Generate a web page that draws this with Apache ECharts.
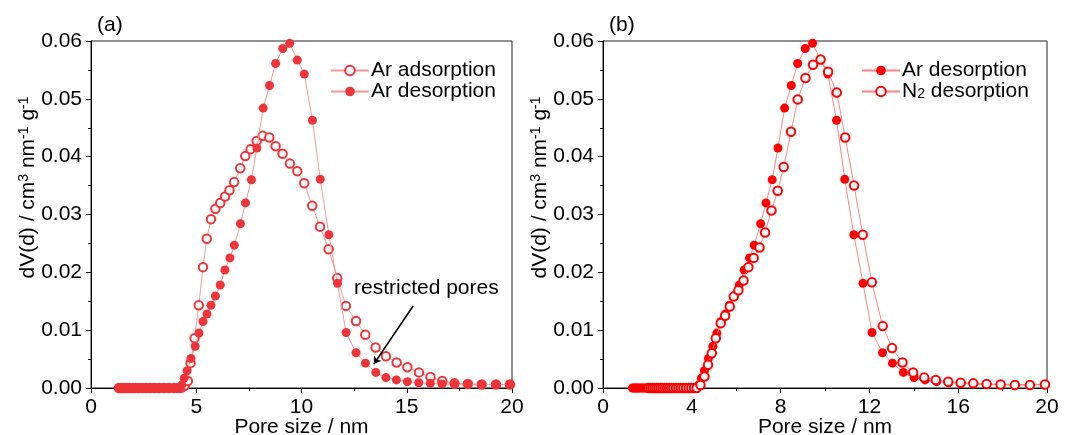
<!DOCTYPE html>
<html>
<head>
<meta charset="utf-8">
<script src="https://cdn.jsdelivr.net/npm/echarts@6/dist/echarts.min.js"></script>
<style>html,body{margin:0;padding:0;background:#fff}#c{width:1065px;height:435px}</style>
</head>
<body>
<div id="c"></div>
<script>
// ---- data (pore size in nm, dV(d) in cm3 nm-1 g-1) ----
const arDesX = [1.33,1.38,1.44,1.50,1.56,1.62,1.68,1.75,1.82,1.89,1.96,2.03,2.11,2.19,2.27,2.35,2.44,2.53,2.62,2.71,2.81,2.91,3.01,3.12,3.23,3.34,3.46,3.58,3.70,3.83,3.96,4.08,4.20,4.31,
  4.43,4.57,4.75,4.95,5.13,5.32,5.51,5.70,5.91,6.14,6.36,6.60,6.81,7.10,7.34,7.62,7.88,8.18,8.48,8.77,9.11,9.44,9.80,10.13,10.52,10.89,11.30,11.71,12.12,12.59,13.04,13.53,14.01,14.51,15.03,15.57,16.12,16.68,17.27,17.90,18.56,19.24,19.90];
const arDesY = [0,0,0,0,0,0,0,0,0,0,0,0,0,0,0,0,0,0,0,0,0,0,0,0,0,0,0,0,0,0,0,0,0.0001,0.0005,
  0.0017,0.0030,0.0051,0.0072,0.0095,0.0115,0.0128,0.0143,0.0159,0.0178,0.0204,0.0225,0.0247,0.0284,0.0320,0.0360,0.0415,0.0484,0.0523,0.0561,0.0587,0.0596,0.0567,0.0543,0.0463,0.0361,0.0265,0.0181,0.0096,0.0061,0.0043,0.0027,0.0018,0.0014,0.0011,0.0009,0.0008,0.0007,0.0006,0.0006,0.0006,0.0006,0.0006];

const arAdsX = [1.33,1.44,1.56,1.68,1.82,1.96,2.11,2.27,2.44,2.62,2.81,3.01,3.23,3.46,3.70,3.96,4.20,4.31,
  4.45,4.60,4.73,4.92,5.12,5.32,5.50,5.70,5.91,6.14,6.37,6.58,6.80,7.09,7.33,7.58,7.87,8.16,8.47,8.77,9.10,9.45,9.80,10.13,10.51,10.88,11.29,11.70,12.11,12.59,13.03,13.52,14.01,14.52,15.03,15.58,16.13,16.69,17.27,17.90,18.56,19.24,19.90];
const arAdsY = [0,0,0,0,0,0,0,0,0,0,0,0,0,0,0,0,0,0.0001,
  0.0004,0.0012,0.0043,0.0086,0.0143,0.0209,0.0258,0.0292,0.0310,0.0320,0.0331,0.0342,0.0356,0.0380,0.0401,0.0413,0.0427,0.0436,0.0433,0.0418,0.0405,0.0388,0.0375,0.0354,0.0315,0.0279,0.0240,0.0190,0.0142,0.0116,0.0092,0.0070,0.0055,0.0044,0.0036,0.0027,0.0019,0.0012,0.0008,0.0007,0.0006,0.0006,0.0006];

const n2DesX = [2.05,2.14,2.23,2.32,2.41,2.50,2.59,2.68,2.78,2.88,2.98,3.08,3.18,3.29,3.40,3.51,3.62,3.74,3.86,3.98,4.10,4.22,
  4.39,4.57,4.73,4.90,5.08,5.30,5.50,5.71,5.89,6.10,6.33,6.55,6.79,7.05,7.30,7.59,7.87,8.14,8.47,8.77,9.12,9.46,9.80,10.14,10.53,10.91,11.31,11.70,12.11,12.60,13.02,13.49,13.97,14.47,14.99,15.55,16.11,16.68,17.28,17.91,18.55,19.23,19.91];
const n2DesY = [0,0,0,0,0,0,0,0,0,0,0,0,0,0,0,0,0,0,0,0,0,0,
  0.0005,0.0020,0.0040,0.0060,0.0086,0.0112,0.0125,0.0141,0.0158,0.0169,0.0186,0.0209,0.0225,0.0243,0.0269,0.0307,0.0341,0.0382,0.0443,0.0499,0.0536,0.0559,0.0568,0.0547,0.0511,0.0433,0.0350,0.0265,0.0183,0.0107,0.0069,0.0044,0.0027,0.0018,0.0014,0.0011,0.0009,0.0008,0.0007,0.0006,0.0005,0.0005,0.0006];

const yTicks = [0, 0.06, 0.01];       // min, max, interval
const xTicksA = [0, 20, 5];
const xTicksB = [0, 20, 4];
const arrowFrom = [15.30, 0.01418];
const arrowTo = [13.44, 0.00415];
const noteAt = [15.93, 0.0173];
const noteText = 'restricted pores';

function pairs(xs, ys) { return xs.map((x, i) => [x, ys[i]]); }

const FONT = '"Liberation Sans", Arial, sans-serif';
const TXT = { color: '#000', fontSize: 21, fontFamily: FONT };

function xAxisOf(idx, t) {
  return {
    gridIndex: idx, type: 'value', min: t[0], max: t[1], interval: t[2],
    name: 'Pore size / nm', nameLocation: 'middle', nameGap: 29, nameMoveOverlap: false,
    nameTextStyle: TXT,
    axisLine: { show: true, onZero: false, lineStyle: { color: '#000', width: 1 } },
    axisTick: { show: true, inside: false, length: 5, lineStyle: { color: '#000' } },
    minorTick: { show: true, splitNumber: 2, length: 3, lineStyle: { color: '#000' } },
    axisLabel: { ...TXT, margin: 9 },
    splitLine: { show: false }
  };
}
function yAxisOf(idx) {
  return {
    gridIndex: idx, type: 'value', min: yTicks[0], max: yTicks[1], interval: yTicks[2],
    name: '{a|dV(d) / cm}{s|3}{a| nm}{s|-1}{a| g}{s|-1}',
    nameLocation: 'middle', nameGap: 52, nameRotate: 90, nameMoveOverlap: false,
    nameTextStyle: {
      ...TXT, padding: [0, 0, 0, 54],
      rich: {
        a: { fontSize: 21, fontFamily: FONT, color: '#000', lineHeight: 22 },
        s: { fontSize: 14, fontFamily: FONT, color: '#000', verticalAlign: 'top', lineHeight: 10 }
      }
    },
    axisLine: { show: true, lineStyle: { color: '#000', width: 1 } },
    axisTick: { show: true, inside: false, length: 5, lineStyle: { color: '#000' } },
    minorTick: { show: true, splitNumber: 2, length: 3, lineStyle: { color: '#000' } },
    axisLabel: { ...TXT, margin: 9, formatter: v => v.toFixed(2) },
    splitLine: { show: false }
  };
}

const redA = 'rgb(238,52,56)', lineA = 'rgb(244,150,150)';
const redB = 'rgb(255,0,0)', lineB = 'rgb(255,130,130)';

function series(name, data, xi, filled, color, lineColor, z) {
  return {
    name, type: 'line', xAxisIndex: xi, yAxisIndex: xi, data,
    symbol: filled ? 'circle' : 'emptyCircle', symbolSize: filled ? 9 : 8.5, showSymbol: true,
    itemStyle: filled ? { color } : { color, borderColor: color, borderWidth: 0.9 },
    lineStyle: { color: lineColor, width: 1 },
    z, clip: true
  };
}

const sAds = series('Ar adsorption', pairs(arAdsX, arAdsY), 0, false, redA, lineA, 2);
const sDesA = series('Ar desorption', pairs(arDesX, arDesY), 0, true, redA, lineA, 3);
sDesA.markLine = {
  silent: true, animation: false, symbol: ['none', 'arrow'], symbolSize: 7,
  label: { show: false },
  lineStyle: { color: '#000', width: 1.5, type: 'solid' },
  data: [[{ coord: arrowFrom }, { coord: arrowTo }]]
};
sDesA.markPoint = {
  silent: true, animation: false, symbol: 'circle', symbolSize: 0,
  label: { show: true, position: 'inside', ...TXT, formatter: noteText },
  data: [{ coord: noteAt }]
};
const sDesB = series('Ar desorption ', pairs(arDesX, arDesY), 1, true, redB, lineB, 2);
const sN2 = series('N2 desorption', pairs(n2DesX, n2DesY), 1, false, redB, lineB, 3);

const legendCommon = {
  orient: 'vertical', itemGap: 0, itemWidth: 38, itemHeight: 12,
  selectedMode: false,
  textStyle: { ...TXT, lineHeight: 20, padding: [0, 0, 0, -3],
    rich: { sub: { fontSize: 14, fontFamily: FONT, color: '#000', verticalAlign: 'bottom', lineHeight: 9 } } }
};

const gridCommon = { show: true, borderColor: '#222', borderWidth: 1, backgroundColor: 'transparent',
  containLabel: false, outerBoundsMode: 'none' };

const option = {
  animation: false,
  backgroundColor: '#fff',
  grid: [
    { ...gridCommon, left: 91, top: 41, width: 421, height: 347 },
    { ...gridCommon, left: 603, top: 41, width: 444, height: 347 }
  ],
  xAxis: [xAxisOf(0, xTicksA), xAxisOf(1, xTicksB)],
  yAxis: [yAxisOf(0), yAxisOf(1)],
  legend: [
    { ...legendCommon, left: 325, top: 55, data: ['Ar adsorption', 'Ar desorption'] },
    { ...legendCommon, left: 856, top: 55, data: ['Ar desorption ', 'N2 desorption'],
      formatter: n => n === 'N2 desorption' ? 'N{sub|2} desorption' : n.trim() }
  ],
  graphic: [
    { type: 'text', left: 97, top: 15, style: { text: '(a)', fill: '#000', font: '21px ' + FONT } },
    { type: 'text', left: 609, top: 15, style: { text: '(b)', fill: '#000', font: '21px ' + FONT } }
  ],
  series: [sAds, sDesA, sDesB, sN2]
};

const chart = echarts.init(document.getElementById('c'), null, { renderer: 'canvas' });
chart.setOption(option);
</script>
</body>
</html>
